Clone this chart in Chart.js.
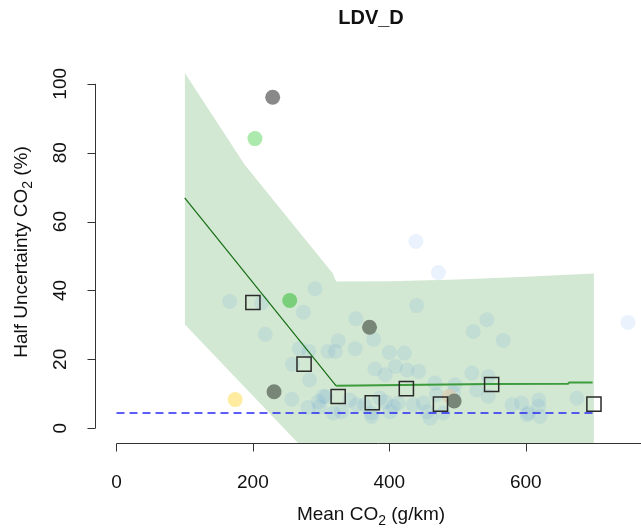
<!DOCTYPE html>
<html lang="en">
<head>
<meta charset="UTF-8">
<title>LDV_D</title>
<script src="https://cdn.jsdelivr.net/npm/chart.js"></script>
<style>
  body { margin: 0; background: #fff; overflow: hidden; }
  canvas { display: block; }
</style>
</head>
<body>
<canvas id="grafico" width="641" height="528"></canvas>

<script>
// axis ticks
const xTicks = [0, 200, 400, 600];
const yTicks = [0, 20, 40, 60, 80, 100];

// uncertainty band (upper / lower bounds)
const bandX     = [100, 188, 267, 317, 322, 400, 500, 600, 700];
const bandUpper = [103.2, 76.5, 57.2, 45.0, 42.6, 42.7, 43.2, 44.0, 44.9];
const bandLower = [30.2, 11.9, -4.5, -15.0, -16.0, -16.0, -16.0, -16.0, -16.0];

// fitted line, steep part then flat part
const fitSteepX = [100, 322];
const fitSteepY = [66.9, 12.3];
const fitFlatX  = [322, 548, 662, 664, 698];
const fitFlatY  = [12.3, 12.8, 12.9, 13.3, 13.3];

// reference dashed line
const refX = [0, 700];
const refY = [4.4, 4.4];

// binned means (squares)
const binX = [200, 275, 325, 375, 425, 475, 550, 700];
const binY = [36.5, 18.6, 9.2, 7.4, 11.5, 7.0, 12.7, 7.0];

// vehicles (faint points)
const ptX = [166, 213, 291, 274, 218, 268, 282, 258, 283, 257, 281, 296, 310, 440, 351, 543,
             325, 377, 350, 321, 400, 422, 523, 567, 379, 409, 426, 443, 521, 545, 342, 352,
             386, 406, 413, 435, 455, 469, 494, 528, 545, 580, 594, 619, 602, 621, 675, 318,
             330, 374, 401, 460, 479, 298, 364, 307, 394, 450, 374, 467, 496, 394, 619, 604, 303];
const ptY = [36.8, 36.4, 40.5, 33.7, 27.3, 23.1, 22.3, 18.6, 14.0, 8.4, 6.0, 7.7, 22.3, 35.6, 31.8, 31.5,
             25.4, 25.8, 23.1, 22.3, 22.0, 21.8, 28.1, 25.5, 17.2, 17.9, 16.9, 16.5, 16.0, 15.0, 8.2, 6.8,
             8.7, 6.3, 7.3, 6.8, 4.8, 9.7, 10.2, 11.1, 9.2, 6.8, 7.3, 8.2, 3.9, 3.4, 8.7, 4.4,
             4.8, 4.4, 4.8, 2.9, 4.4, 6.2, 6.8, 9.2, 7.7, 7.3, 3.4, 13.1, 12.6, 15.5, 6.3, 4.4, 9.2];

// pale blue points outside the band
const paleX = [439, 472, 750];
const paleY = [54.2, 45.2, 30.7];

// highlighted points
const hiX = [488, 229, 203, 254, 231, 371, 495, 174];
const hiY = [9.2, 96.1, 84.1, 37.1, 10.6, 29.3, 7.9, 8.3];
const hiColors = ['rgba(225,200,170,0.6)', 'rgb(137,137,137)', 'rgb(172,233,172)', 'rgb(122,208,122)',
                  'rgb(120,134,120)', 'rgb(120,134,120)', 'rgb(120,134,120)', 'rgb(255,236,160)'];

function pts(xs, ys) {
  return xs.map((v, i) => ({ x: v, y: ys[i] }));
}

const FONT = "'Liberation Sans', Arial, sans-serif";

// R style axes, labels and title
const eixos = {
  id: 'eixos',
  afterDraw(chart) {
    const ctx = chart.ctx;
    const x = chart.scales.x;
    const y = chart.scales.y;
    ctx.save();
    ctx.strokeStyle = '#333';
    ctx.lineWidth = 1;
    ctx.fillStyle = '#111';

    // x axis
    const ya = Math.round(chart.chartArea.bottom) + 0.5;
    ctx.beginPath();
    ctx.moveTo(x.getPixelForValue(0), ya);
    ctx.lineTo(x.right, ya);
    xTicks.forEach(t => {
      const px = Math.round(x.getPixelForValue(t)) + 0.5;
      ctx.moveTo(px, ya);
      ctx.lineTo(px, ya + 8);
    });
    ctx.stroke();
    ctx.font = '19px ' + FONT;
    ctx.textAlign = 'center';
    ctx.textBaseline = 'alphabetic';
    xTicks.forEach(t => ctx.fillText(String(t), x.getPixelForValue(t), 488));

    // y axis
    const xa = Math.round(chart.chartArea.left) + 0.5;
    ctx.beginPath();
    ctx.moveTo(xa, y.getPixelForValue(yTicks[0]));
    ctx.lineTo(xa, y.getPixelForValue(yTicks[yTicks.length - 1]));
    yTicks.forEach(t => {
      const py = Math.round(y.getPixelForValue(t)) + 0.5;
      ctx.moveTo(xa, py);
      ctx.lineTo(xa - 8, py);
    });
    ctx.stroke();
    yTicks.forEach(t => {
      ctx.save();
      ctx.translate(66, y.getPixelForValue(t));
      ctx.rotate(-Math.PI / 2);
      ctx.fillText(String(t), 0, 0);
      ctx.restore();
    });

    // label with subscript
    function subLabel(a, s, b, cx, cy, rot) {
      ctx.save();
      ctx.translate(cx, cy);
      ctx.rotate(rot);
      ctx.textAlign = 'left';
      ctx.font = '19px ' + FONT;
      const w1 = ctx.measureText(a).width;
      const w3 = ctx.measureText(b).width;
      ctx.font = '14px ' + FONT;
      const w2 = ctx.measureText(s).width;
      let start = -(w1 + w2 + w3) / 2;
      ctx.font = '19px ' + FONT;
      ctx.fillText(a, start, 0);
      ctx.font = '14px ' + FONT;
      ctx.fillText(s, start + w1, 5);
      ctx.font = '19px ' + FONT;
      ctx.fillText(b, start + w1 + w2, 0);
      ctx.restore();
    }
    subLabel('Mean CO', '2', ' (g/km)', 371, 520, 0);
    subLabel('Half Uncertainty CO', '2', ' (%)', 27, 252, -Math.PI / 2);

    // title
    ctx.font = 'bold 20px ' + FONT;
    ctx.textAlign = 'center';
    ctx.fillText('LDV_D', 371, 24);
    ctx.restore();
  }
};

new Chart(document.getElementById('grafico'), {
  type: 'line',
  data: {
    datasets: [
      {
        label: 'upper',
        data: pts(bandX, bandUpper),
        borderWidth: 0,
        borderColor: 'rgba(0,0,0,0)',
        backgroundColor: 'rgb(211,232,211)',
        pointRadius: 0,
        fill: '+1',
        order: 20
      },
      {
        label: 'lower',
        data: pts(bandX, bandLower),
        borderWidth: 0,
        borderColor: 'rgba(0,0,0,0)',
        pointRadius: 0,
        fill: false,
        order: 19
      },
      {
        label: 'veiculos',
        data: pts(ptX, ptY),
        showLine: false,
        pointRadius: 7.5,
        pointBorderWidth: 0,
        pointBackgroundColor: 'rgba(100,160,215,0.15)',
        order: 15
      },
      {
        label: 'palidos',
        data: pts(paleX, paleY),
        showLine: false,
        pointRadius: 7.5,
        pointBorderWidth: 0,
        pointBackgroundColor: 'rgba(200,220,250,0.38)',
        order: 14
      },
      {
        label: 'destaque',
        data: pts(hiX, hiY),
        showLine: false,
        pointRadius: 7.5,
        pointBorderWidth: 0,
        pointBackgroundColor: hiColors,
        order: 13
      },
      {
        label: 'fit1',
        data: pts(fitSteepX, fitSteepY),
        borderColor: 'rgb(20,110,20)',
        borderWidth: 1.2,
        pointRadius: 0,
        fill: false,
        order: 10
      },
      {
        label: 'fit2',
        data: pts(fitFlatX, fitFlatY),
        borderColor: 'rgb(60,155,60)',
        borderWidth: 2,
        pointRadius: 0,
        fill: false,
        order: 9
      },
      {
        label: 'ref',
        data: pts(refX, refY),
        borderColor: 'rgb(40,40,245)',
        borderWidth: 1.5,
        borderDash: [8, 5],
        pointRadius: 0,
        fill: false,
        order: 8
      },
      {
        label: 'medias',
        data: pts(binX, binY),
        showLine: false,
        pointStyle: 'rect',
        pointRadius: 10,
        pointBorderWidth: 1.5,
        pointBorderColor: '#2a2a2a',
        pointBackgroundColor: 'rgba(0,0,0,0)',
        order: 5
      }
    ]
  },
  options: {
    responsive: false,
    animation: false,
    events: [],
    layout: { autoPadding: false, padding: { left: 95, right: 0, top: 58, bottom: 85 } },
    plugins: { legend: { display: false }, tooltip: { enabled: false } },
    scales: {
      x: { type: 'linear', min: -31.5, max: 769, display: false },
      y: { type: 'linear', min: -4.3, max: 107.5, display: false }
    }
  },
  plugins: [eixos]
});
</script>
</body>
</html>
